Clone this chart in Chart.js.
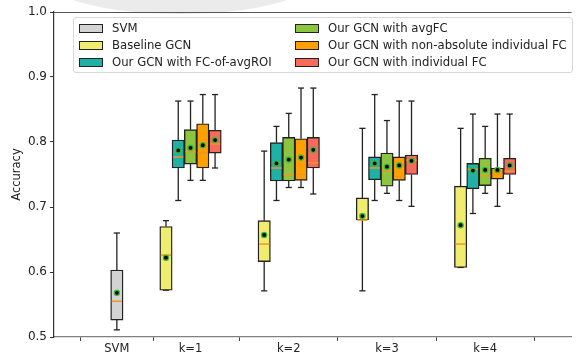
<!DOCTYPE html>
<html>
<head>
<meta charset="utf-8">
<script src="https://cdn.jsdelivr.net/npm/chart.js@4/dist/chart.umd.min.js"></script>
<style>
  html, body { margin: 0; padding: 0; background: #fff; }
  #wrap { position: relative; width: 577px; height: 356px; overflow: hidden; }
  #legend {
    position: absolute; left: 73px; top: 17px; width: 498px; height: 54px;
    border: 1px solid #d8d8d8; border-radius: 3px; background: rgba(255,255,255,0.85);
    font-family: "DejaVu Sans", sans-serif; font-size: 11.7px; color: #222;
  }
  .item { position: absolute; height: 14px; line-height: 14px; white-space: nowrap; }
  .sw { position: absolute; left: 0; top: 3px; width: 22px; height: 7px; border: 1px solid #222; }
  .lbl { position: absolute; left: 33px; top: 0; }
</style>
</head>
<body>
<div id="wrap">
  <canvas id="c" width="577" height="356"></canvas>
  <div id="legend"></div>
</div>
<script>
// ---- data ----
const categories = ['SVM', 'k=1', 'k=2', 'k=3', 'k=4'];
const yTicks = [0.5, 0.6, 0.7, 0.8, 0.9, 1.0];

const seriesNames = [
  'SVM',
  'Baseline GCN',
  'Our GCN with FC-of-avgROI',
  'Our GCN with avgFC',
  'Our GCN with non-absolute individual FC',
  'Our GCN with individual FC'
];

// which category each series appears in
const svmCats = ['SVM'];
const kCats = ['k=1', 'k=2', 'k=3', 'k=4'];

// SVM
const svmLow    = [0.511];
const svmQ1     = [0.526];
const svmMedian = [0.555];
const svmQ3     = [0.603];
const svmHigh   = [0.660];
const svmMean   = [0.568];

// Baseline GCN
const baseLow    = [0.572, 0.571, 0.571, 0.607];
const baseQ1     = [0.572, 0.616, 0.680, 0.607];
const baseMedian = [0.626, 0.643, 0.680, 0.643];
const baseQ3     = [0.670, 0.679, 0.714, 0.732];
const baseHigh   = [0.679, 0.786, 0.821, 0.821];
const baseMean   = [0.622, 0.657, 0.686, 0.672];

// Our GCN with FC-of-avgROI
const roiLow    = [0.710, 0.710, 0.710, 0.690];
const roiQ1     = [0.760, 0.740, 0.742, 0.728];
const roiMedian = [0.777, 0.760, 0.760, 0.758];
const roiQ3     = [0.803, 0.799, 0.777, 0.767];
const roiHigh   = [0.863, 0.824, 0.873, 0.843];
const roiMean   = [0.787, 0.767, 0.767, 0.756];

// Our GCN with avgFC
const avgLow    = [0.741, 0.730, 0.721, 0.721];
const avgQ1     = [0.766, 0.740, 0.732, 0.733];
const avgMedian = [0.785, 0.750, 0.755, 0.748];
const avgQ3     = [0.819, 0.807, 0.783, 0.775];
const avgHigh   = [0.863, 0.844, 0.833, 0.824];
const avgMean   = [0.791, 0.773, 0.762, 0.757];

// Our GCN with non-absolute individual FC
const nonAbsLow    = [0.741, 0.730, 0.710, 0.701];
const nonAbsQ1     = [0.760, 0.741, 0.741, 0.743];
const nonAbsMedian = [0.783, 0.750, 0.747, 0.750];
const nonAbsQ3     = [0.828, 0.805, 0.777, 0.760];
const nonAbsHigh   = [0.873, 0.883, 0.863, 0.843];
const nonAbsMean   = [0.795, 0.776, 0.764, 0.757];

// Our GCN with individual FC
const indLow    = [0.760, 0.720, 0.701, 0.721];
const indQ1     = [0.783, 0.760, 0.750, 0.750];
const indMedian = [0.797, 0.768, 0.772, 0.755];
const indQ3     = [0.818, 0.807, 0.780, 0.775];
const indHigh   = [0.873, 0.883, 0.863, 0.843];
const indMean   = [0.803, 0.788, 0.771, 0.764];

// ---- layout / style config (kept separate from data) ----
const catPos = { 'SVM': 0.25, 'k=1': 1, 'k=2': 2, 'k=3': 3, 'k=4': 4 };
const boxWidth = 0.125;
const seriesOffset = [0, -0.25, -0.125, 0, 0.125, 0.25];
const seriesColors = ['#d3d3d3', '#f0ed6e', '#1fb0a6', '#8cc63f', '#ffa000', '#f86a5a'];

const series = [
  { cats: svmCats, lo: svmLow, q1: svmQ1, med: svmMedian, q3: svmQ3, hi: svmHigh, mean: svmMean },
  { cats: kCats, lo: baseLow, q1: baseQ1, med: baseMedian, q3: baseQ3, hi: baseHigh, mean: baseMean },
  { cats: kCats, lo: roiLow, q1: roiQ1, med: roiMedian, q3: roiQ3, hi: roiHigh, mean: roiMean },
  { cats: kCats, lo: avgLow, q1: avgQ1, med: avgMedian, q3: avgQ3, hi: avgHigh, mean: avgMean },
  { cats: kCats, lo: nonAbsLow, q1: nonAbsQ1, med: nonAbsMedian, q3: nonAbsQ3, hi: nonAbsHigh, mean: nonAbsMean },
  { cats: kCats, lo: indLow, q1: indQ1, med: indMedian, q3: indQ3, hi: indHigh, mean: indMean }
];

const xOf = (si, i) => catPos[series[si].cats[i]] + seriesOffset[si];

// ---- datasets ----
const datasets = [];
series.forEach((s, si) => {
  datasets.push({
    type: 'bar',
    label: seriesNames[si],
    data: s.cats.map((c, i) => ({ x: xOf(si, i), y: [s.q1[i], s.q3[i]] })),
    backgroundColor: seriesColors[si],
    borderColor: '#222',
    borderWidth: 1.4,
    borderSkipped: false,
    grouped: false,
    barThickness: 12.4,
    order: 2,
    seriesIndex: si
  });
});
series.forEach((s, si) => {
  datasets.push({
    type: 'scatter',
    label: seriesNames[si] + ' mean',
    data: s.cats.map((c, i) => ({ x: xOf(si, i), y: s.mean[i] })),
    pointRadius: 2.6,
    pointBorderWidth: 1.4,
    pointBackgroundColor: '#000',
    pointBorderColor: 'rgba(60,190,60,0.9)',
    order: 1
  });
});

const boxPlugin = {
  id: 'boxParts',
  beforeDraw(chart) {
    const ctx = chart.ctx;
    ctx.save();
    ctx.beginPath();
    ctx.rect(0, 0, 577, 17);
    ctx.clip();
    ctx.fillStyle = '#ebebeb';
    ctx.beginPath();
    ctx.ellipse(180, -25, 140, 39, 0, 0, Math.PI * 2);
    ctx.fill();
    ctx.restore();
  },
  beforeDatasetsDraw(chart) {
    const { ctx, scales: { x, y } } = chart;
    const px = x.getPixelForValue(boxWidth) - x.getPixelForValue(0);
    ctx.save();
    ctx.strokeStyle = '#222';
    ctx.lineWidth = 1.3;
    series.forEach((s, si) => {
      s.cats.forEach((c, i) => {
        const cx = x.getPixelForValue(xOf(si, i));
        const pairs = [[s.q3[i], s.hi[i]], [s.q1[i], s.lo[i]]];
        pairs.forEach(([a, b]) => {
          if (Math.abs(a - b) < 1e-9) return;
          ctx.beginPath();
          ctx.moveTo(cx, y.getPixelForValue(a));
          ctx.lineTo(cx, y.getPixelForValue(b));
          ctx.stroke();
        });
        [s.hi[i], s.lo[i]].forEach(v => {
          const py = y.getPixelForValue(v);
          ctx.beginPath();
          ctx.moveTo(cx - px / 4, py);
          ctx.lineTo(cx + px / 4, py);
          ctx.stroke();
        });
      });
    });
    ctx.restore();
  },
  afterDatasetDraw(chart, args) {
    const ds = chart.data.datasets[args.index];
    if (ds.type !== 'bar') return;
    const si = ds.seriesIndex;
    const s = series[si];
    const { ctx, scales: { x, y } } = chart;
    const px = x.getPixelForValue(boxWidth) - x.getPixelForValue(0);
    ctx.save();
    ctx.strokeStyle = '#f39425';
    ctx.lineWidth = 1.5;
    s.cats.forEach((c, i) => {
      const cx = x.getPixelForValue(xOf(si, i));
      const py = y.getPixelForValue(s.med[i]);
      ctx.beginPath();
      ctx.moveTo(cx - px / 2 + 1, py);
      ctx.lineTo(cx + px / 2 - 1, py);
      ctx.stroke();
    });
    ctx.restore();
  },
  afterDraw(chart) {
    const { ctx, chartArea } = chart;
    ctx.save();
    ctx.strokeStyle = '#555';
    ctx.lineWidth = 1.2;
    ctx.beginPath();
    ctx.moveTo(chartArea.left, chartArea.top + 0.5);
    ctx.lineTo(chartArea.right, chartArea.top + 0.5);
    ctx.stroke();
    ctx.restore();
  }
};

const tickFont = { family: 'DejaVu Sans', size: 11.5 };

new Chart(document.getElementById('c'), {
  type: 'bar',
  data: { datasets },
  options: {
    responsive: false,
    animation: false,
    layout: { padding: { top: 12, left: 0, right: 0, bottom: 0 } },
    plugins: { legend: { display: false }, tooltip: { enabled: false } },
    scales: {
      x: {
        type: 'linear',
        min: -0.39,
        max: 4.88,
        offset: false,
        afterBuildTicks: (scale) => { scale.ticks = categories.map(c => ({ value: catPos[c] })); },
        afterFit: (scale) => { scale.height = 19; },
        ticks: {
          autoSkip: false, maxRotation: 0, padding: 1, color: '#222', font: tickFont,
          callback: (v) => categories.find(c => catPos[c] === v) || ''
        },
        grid: { drawOnChartArea: false, drawTicks: true, tickLength: 4, color: '#444' },
        border: { color: '#808080', width: 1.3 }
      },
      y: {
        min: 0.5,
        max: 1.0,
        afterBuildTicks: (scale) => { scale.ticks = yTicks.map(v => ({ value: v })); },
        afterFit: (scale) => { scale.width = 54; },
        ticks: { padding: 3, color: '#222', font: { family: 'DejaVu Sans', size: 12 }, callback: (v) => Number(v).toFixed(1) },
        grid: { drawOnChartArea: false, drawTicks: true, tickLength: 4, color: '#333' },
        border: { color: '#333', width: 1.2 },
        title: { display: true, text: 'Accuracy', color: '#222', font: tickFont, padding: { top: 10, bottom: 0 } }
      }
    }
  },
  plugins: [boxPlugin]
});

// ---- legend (HTML text) ----
const legend = document.getElementById('legend');
const legendCols = [5, 221];
seriesNames.forEach((name, si) => {
  const col = si < 3 ? 0 : 1;
  const row = si % 3;
  const item = document.createElement('div');
  item.className = 'item';
  item.style.left = legendCols[col] + 'px';
  item.style.top = (3 + row * 17) + 'px';
  const sw = document.createElement('span');
  sw.className = 'sw';
  sw.style.background = seriesColors[si];
  const lb = document.createElement('span');
  lb.className = 'lbl';
  lb.textContent = name;
  item.appendChild(sw);
  item.appendChild(lb);
  legend.appendChild(item);
});
</script>
</body>
</html>
